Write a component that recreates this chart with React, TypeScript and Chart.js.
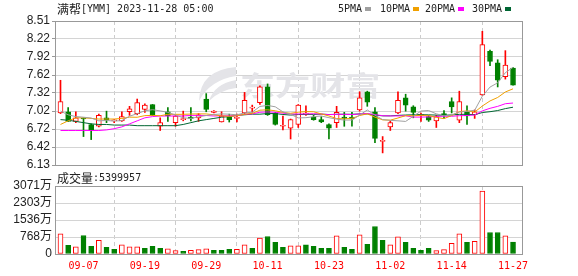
import React, { useEffect, useRef } from "react";
import { Chart, registerables } from "chart.js";

Chart.register(...registerables);

// ---------- data ----------
const TITLE_NAME = "满帮";
const TITLE_REST = "[YMM] 2023-11-28 05:00";
const WATERMARK = "东方财富";
const VOL_TITLE = "成交量";
const VOL_LAST = "5399957";

const DATES = ["09-01","09-05","09-06","09-07","09-08","09-11","09-12","09-13","09-14","09-15","09-18","09-19","09-20","09-21","09-22","09-25","09-26","09-27","09-28","09-29","10-02","10-03","10-04","10-05","10-06","10-09","10-10","10-11","10-12","10-13","10-16","10-17","10-18","10-19","10-20","10-23","10-24","10-25","10-26","10-27","10-30","10-31","11-01","11-02","11-03","11-06","11-07","11-08","11-09","11-10","11-13","11-14","11-15","11-16","11-17","11-20","11-21","11-22","11-24","11-27"];
const X_TICK_LABELS = ["09-07","09-19","09-29","10-11","10-23","11-02","11-14","11-27"];

const OPEN  = [6.99,7.01,6.85,6.90,6.80,6.77,6.91,6.86,6.86,7.01,6.98,7.05,7.13,6.77,7.01,6.83,6.88,6.92,6.91,7.22,7.00,6.84,6.92,6.90,6.99,7.07,7.16,7.42,6.99,6.77,6.74,6.80,6.97,6.92,6.88,6.80,6.83,6.92,6.92,7.04,7.34,7.01,6.52,6.76,6.99,7.24,7.09,6.95,6.93,6.86,6.98,7.18,6.87,7.01,6.96,7.29,8.01,7.82,7.59,7.73];
const HIGH  = [7.53,7.08,7.01,6.91,6.81,6.97,7.02,6.88,7.01,7.10,7.22,7.14,7.13,6.91,7.08,6.95,7.02,7.08,6.98,7.31,7.03,7.01,6.97,6.97,7.33,7.12,7.44,7.47,7.00,6.94,6.89,7.13,7.11,6.95,6.93,6.81,7.10,7.00,7.00,7.34,7.35,7.08,6.60,6.86,7.34,7.30,7.11,6.99,6.95,6.95,7.03,7.24,7.35,7.11,7.04,8.34,8.03,7.87,8.02,7.74];
const LOW   = [6.98,6.85,6.83,6.60,6.55,6.76,6.83,6.83,6.85,6.95,6.96,7.00,6.95,6.70,6.85,6.77,6.86,6.86,6.85,7.01,6.99,6.84,6.84,6.84,6.97,7.00,7.13,6.95,6.79,6.71,6.56,6.75,6.95,6.87,6.83,6.56,6.75,6.77,6.77,7.02,7.10,6.50,6.33,6.70,6.98,7.02,6.91,6.85,6.85,6.75,6.90,6.99,6.83,6.80,6.90,7.28,7.77,7.42,7.55,7.45];
const CLOSE = [7.18,6.85,6.91,6.89,6.70,6.95,6.88,6.86,6.93,7.06,7.16,7.12,6.95,6.83,6.94,6.94,6.89,6.90,6.96,7.05,7.02,6.94,6.88,6.91,7.20,7.08,7.42,6.96,6.80,6.78,6.88,7.12,6.98,6.88,6.84,6.74,7.00,6.90,6.89,7.24,7.17,6.57,6.53,6.83,7.20,7.12,7.00,6.96,6.87,6.93,6.95,7.09,7.18,6.94,7.01,8.12,7.84,7.53,7.78,7.45];

// volume in 万 shares
const VOLUME = [910,388,328,836,343,612,298,209,418,328,328,254,343,254,239,149,119,164,194,239,164,164,209,209,418,254,716,791,522,298,373,373,418,343,254,254,821,298,209,866,433,1240,612,418,776,522,254,164,254,149,194,478,910,522,567,2836,970,970,821,540];

const MA5  = [7.02,6.96,6.93,6.92,6.906,6.86,6.866,6.856,6.864,6.936,6.978,7.026,7.044,7.024,7.0,6.956,6.91,6.9,6.926,6.948,6.964,6.974,6.97,6.96,6.99,7.002,7.098,7.114,7.092,7.008,6.968,6.908,6.912,6.928,6.94,6.912,6.888,6.872,6.874,6.954,7.04,6.954,6.88,6.868,6.86,6.85,6.936,7.022,7.03,6.976,6.942,6.96,7.004,7.018,7.034,7.268,7.418,7.488,7.656,7.744];
const MA10 = [6.80,6.86,6.91,6.91,6.90,6.89,6.89,6.89,6.90,6.921,6.919,6.946,6.95,6.944,6.968,6.967,6.968,6.972,6.975,6.974,6.96,6.942,6.935,6.943,6.969,6.983,7.036,7.042,7.026,6.999,6.985,7.003,7.013,7.01,6.974,6.94,6.898,6.892,6.901,6.947,6.976,6.921,6.876,6.871,6.907,6.945,6.945,6.951,6.949,6.918,6.896,6.948,7.013,7.024,7.005,7.105,7.189,7.246,7.337,7.389];
const MA20 = [6.70,6.70,6.70,6.70,6.70,6.70,6.71,6.73,6.76,6.81,6.86,6.91,6.93,6.94,6.94,6.94,6.94,6.95,6.95,6.948,6.94,6.944,6.943,6.944,6.969,6.975,7.002,7.007,7.001,6.987,6.973,6.973,6.974,6.977,6.972,6.962,6.967,6.967,6.964,6.973,6.981,6.962,6.945,6.941,6.941,6.943,6.922,6.922,6.925,6.933,6.936,6.935,6.945,6.948,6.956,7.025,7.067,7.099,7.143,7.154];
const MA30 = [6.88,6.87,6.85,6.83,6.81,6.80,6.80,6.79,6.79,6.79,6.78,6.78,6.78,6.78,6.78,6.78,6.80,6.83,6.86,6.88,6.90,6.92,6.93,6.95,6.96,6.97,6.97,6.98,6.98,6.965,6.955,6.964,6.966,6.966,6.971,6.964,6.968,6.969,6.968,6.974,6.974,6.956,6.942,6.942,6.95,6.956,6.96,6.962,6.959,6.955,6.952,6.957,6.967,6.968,6.962,6.997,7.011,7.03,7.062,7.085];
const MA_NAMES = ["5PMA", "10PMA", "20PMA", "30PMA"];

const PRICE_TICKS = ["6.13","6.42","6.72","7.02","7.32","7.62","7.92","8.22","8.51"];
const PRICE_MIN = 6.13;
const PRICE_MAX = 8.51;
const VOL_TICKS = ["0","768万","1536万","2303万","3071万"];
const VOL_MAX = 3071;

// ---------- styles / layout ----------
const RED = "#ff0000";
const GREEN = "#008000";
const MA_COLORS = ["#a0a0a0", "#f0a000", "#ff00ff", "#006633"];
const LEGEND_X = [338, 380, 425, 472];
const X_MIN = -0.716;
const X_MAX = 60.17;
const GRID = "#d4d4d4";
const FRAME = "#999999";
const MONO = '"DejaVu Sans Mono", monospace';
const CJK = '"Noto Sans CJK SC", sans-serif';
const SANS = '"Liberation Sans", "Noto Sans CJK SC", sans-serif';

const IDX = CLOSE.map((_, i) => i);
const CANDLE_UP = CLOSE.map((c, i) => c >= OPEN[i]);
const VOL_UP = CLOSE.map((c, i) => (i === 0 ? c >= OPEN[i] : c >= CLOSE[i - 1]));
const LABEL_IDX = X_TICK_LABELS.map((l) => DATES.indexOf(l));

const framePlugin = {
  id: "frame",
  afterDraw(chart: any) {
    const { ctx, chartArea: a } = chart;
    ctx.save();
    ctx.strokeStyle = FRAME;
    ctx.lineWidth = 1;
    const l = Math.round(a.left) + 0.5, t = Math.round(a.top) + 0.5;
    const r = Math.round(a.right) + 0.5, b = Math.round(a.bottom) + 0.5;
    ctx.strokeRect(l, t, r - l, b - t);
    ctx.restore();
  },
};

function drawRuns(ctx: CanvasRenderingContext2D, x: number, y: number, runs: [string, string][], color: string) {
  ctx.fillStyle = color;
  ctx.textBaseline = "middle";
  ctx.textAlign = "left";
  let cx = x;
  for (const [text, font] of runs) {
    ctx.font = font;
    ctx.fillText(text, cx, y);
    cx += ctx.measureText(text).width;
  }
  return cx;
}

const headerPlugin = {
  id: "header",
  afterDraw(chart: any) {
    const { ctx } = chart;
    ctx.save();
    drawRuns(ctx, 57, 9, [[TITLE_NAME, `12px ${CJK}`], [TITLE_REST, `10px ${MONO}`]], "#222");
    MA_NAMES.forEach((name, k) => {
      const end = drawRuns(ctx, LEGEND_X[k], 9, [[name, `10px ${MONO}`]], "#222");
      ctx.fillStyle = MA_COLORS[k];
      ctx.fillRect(Math.round(end + 3), 7, 6, 4);
    });
    ctx.restore();
  },
};

const watermarkPlugin = {
  id: "wm",
  beforeDatasetsDraw(chart: any) {
    const { ctx } = chart;
    ctx.save();
    ctx.fillStyle = "#e4e4e8";
    // swoosh logo
    ctx.beginPath();
    ctx.moveTo(236, 67);
    ctx.quadraticCurveTo(200, 70, 199, 101);
    ctx.quadraticCurveTo(210, 80, 236, 76);
    ctx.closePath();
    ctx.fill();
    ctx.beginPath();
    ctx.moveTo(236, 80);
    ctx.quadraticCurveTo(214, 84, 209, 101);
    ctx.quadraticCurveTo(220, 90, 236, 88);
    ctx.closePath();
    ctx.fill();
    ctx.font = `bold 27px ${CJK}`;
    ctx.textBaseline = "middle";
    ctx.translate(240, 86);
    ctx.scale(1.3, 1);
    ctx.fillText(WATERMARK, 0, 0);
    ctx.restore();
  },
};

const volHeaderPlugin = {
  id: "volHeader",
  afterDraw(chart: any) {
    const { ctx } = chart;
    ctx.save();
    drawRuns(ctx, 57, 8, [[VOL_TITLE, `12px ${CJK}`], [":" + VOL_LAST, `10px ${MONO}`]], "#222");
    ctx.restore();
  },
};

function xScale(showLabels: boolean) {
  return {
    type: "linear",
    min: X_MIN,
    max: X_MAX,
    offset: false,
    afterBuildTicks: (s: any) => {
      s.ticks = LABEL_IDX.map((v) => ({ value: v }));
    },
    ticks: {
      display: showLabels,
      autoSkip: false,
      maxRotation: 0,
      callback: (v: number) => DATES[v],
      color: RED,
      font: { family: MONO, size: 10 },
      padding: 6,
    },
    grid: { color: "#cccccc", drawTicks: false },
    border: { display: false, dash: [4, 3] },
    afterFit: (s: any) => {
      s.height = showLabels ? 22 : 0;
    },
  };
}

export default function App() {
  const priceRef = useRef<HTMLCanvasElement>(null);
  const volRef = useRef<HTMLCanvasElement>(null);

  useEffect(() => {
    const maSets = [MA5, MA10, MA20, MA30].map((arr, k) => ({
      type: "line",
      label: MA_NAMES[k],
      data: arr.map((v, i) => ({ x: i, y: v })),
      borderColor: MA_COLORS[k],
      borderWidth: 1,
      pointRadius: 0,
      tension: 0,
      order: 0,
    }));

    const c1 = new Chart(priceRef.current as HTMLCanvasElement, {
      type: "bar",
      data: {
        datasets: [
          ...maSets,
          {
            type: "bar",
            label: "body",
            data: IDX.map((i) => ({ x: i, y: [OPEN[i], CLOSE[i]] })),
            backgroundColor: IDX.map((i) => (CANDLE_UP[i] ? "#ffffff" : GREEN)),
            borderColor: IDX.map((i) => (CANDLE_UP[i] ? RED : GREEN)),
            borderWidth: 1,
            borderSkipped: false,
            barThickness: 5,
            minBarLength: 1,
            grouped: false,
            order: 1,
          },
          {
            type: "bar",
            label: "wick",
            data: IDX.map((i) => ({ x: i, y: [LOW[i], HIGH[i]] })),
            backgroundColor: IDX.map((i) => (CANDLE_UP[i] ? RED : GREEN)),
            borderWidth: 0,
            barThickness: 1,
            grouped: false,
            order: 2,
          },
        ] as any,
      },
      options: {
        responsive: false,
        animation: false,
        devicePixelRatio: 1,
        events: [],
        layout: { padding: { left: 0, right: 56, top: 21, bottom: 10 } },
        plugins: { legend: { display: false }, tooltip: { enabled: false } },
        scales: {
          x: xScale(false) as any,
          y: {
            type: "linear",
            min: PRICE_MIN,
            max: PRICE_MAX,
            afterBuildTicks: (s: any) => {
              const n = PRICE_TICKS.length - 1;
              s.ticks = PRICE_TICKS.map((_, k) => ({ value: PRICE_MIN + (k * (PRICE_MAX - PRICE_MIN)) / n }));
            },
            ticks: {
              autoSkip: false,
              callback: (_v: any, i: number) => PRICE_TICKS[i],
              color: "#222",
              font: { family: SANS, size: 12 },
              padding: 2,
            },
            grid: { color: GRID, tickLength: 3, tickColor: FRAME },
            border: { display: false },
            afterFit: (s: any) => {
              s.width = 55;
            },
          } as any,
        },
      },
      plugins: [watermarkPlugin, framePlugin, headerPlugin],
    } as any);

    const c2 = new Chart(volRef.current as HTMLCanvasElement, {
      type: "bar",
      data: {
        datasets: [
          {
            label: "volume",
            data: IDX.map((i) => ({ x: i, y: VOLUME[i] })),
            backgroundColor: IDX.map((i) => (VOL_UP[i] ? "#ffffff" : GREEN)),
            borderColor: IDX.map((i) => (VOL_UP[i] ? RED : GREEN)),
            borderWidth: 1,
            borderSkipped: false,
            barThickness: 5,
            grouped: false,
          },
        ] as any,
      },
      options: {
        responsive: false,
        animation: false,
        devicePixelRatio: 1,
        events: [],
        layout: { padding: { left: 0, right: 56, top: 16, bottom: 0 } },
        plugins: { legend: { display: false }, tooltip: { enabled: false } },
        scales: {
          x: xScale(true) as any,
          y: {
            type: "linear",
            min: 0,
            max: VOL_MAX,
            afterBuildTicks: (s: any) => {
              const n = VOL_TICKS.length - 1;
              s.ticks = VOL_TICKS.map((_, k) => ({ value: (k * VOL_MAX) / n }));
            },
            ticks: {
              autoSkip: false,
              callback: (_v: any, i: number) => VOL_TICKS[i],
              color: "#222",
              font: { family: SANS, size: 12 },
              padding: 3,
            },
            grid: { color: GRID, drawTicks: false },
            border: { display: false },
            afterFit: (s: any) => {
              s.width = 55;
            },
          } as any,
        },
      },
      plugins: [framePlugin, volHeaderPlugin],
    } as any);

    return () => {
      c1.destroy();
      c2.destroy();
    };
  }, []);

  return (
    <div style={{ position: "fixed", left: 0, top: 0, width: 578, height: 276, background: "#fff", overflow: "hidden" }}>
      <canvas ref={priceRef} width={578} height={175} style={{ position: "absolute", left: 0, top: 0, width: 578, height: 175 }} />
      <canvas ref={volRef} width={578} height={106} style={{ position: "absolute", left: 0, top: 170, width: 578, height: 106 }} />
    </div>
  );
}
